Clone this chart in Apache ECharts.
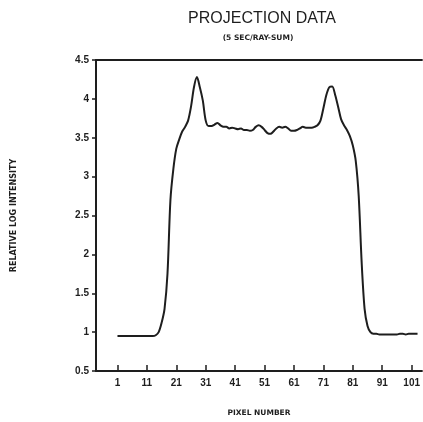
<!DOCTYPE html>
<html>
<head>
<meta charset="utf-8">
<script src="https://cdn.jsdelivr.net/npm/echarts@6/dist/echarts.min.js"></script>
<style>
  html, body { margin: 0; padding: 0; background: #fff; }
  #main { width: 423px; height: 422px; }
</style>
</head>
<body>
<div id="main"></div>
<script>
// pixel numbers 1..103 and relative log intensity
var pixels = [];
for (var i = 1; i <= 103; i++) pixels.push(i);
var intensity = [
  0.95, 0.95, 0.95, 0.95, 0.95, 0.95, 0.95, 0.95, 0.95, 0.95,
  0.95, 0.95, 0.95, 0.96, 1.0, 1.12, 1.3, 1.75, 2.7, 3.1,
  3.36, 3.48, 3.58, 3.64, 3.72, 3.9, 4.15, 4.28, 4.15, 3.98,
  3.72, 3.65, 3.65, 3.67, 3.69, 3.66, 3.64, 3.64, 3.62, 3.63,
  3.62, 3.61, 3.62, 3.6, 3.6, 3.59, 3.6, 3.64, 3.66, 3.64,
  3.6, 3.56, 3.55, 3.58, 3.62, 3.64, 3.63, 3.64, 3.62, 3.59,
  3.59, 3.6, 3.62, 3.64, 3.63, 3.63, 3.63, 3.64, 3.66, 3.72,
  3.88, 4.05, 4.15, 4.16, 4.05, 3.9, 3.74, 3.66, 3.6, 3.52,
  3.4, 3.2, 2.75, 1.9, 1.3, 1.08, 1.0, 0.98, 0.98, 0.97,
  0.97, 0.97, 0.97, 0.97, 0.97, 0.97, 0.98, 0.98, 0.97, 0.98,
  0.98, 0.98, 0.98
];
var xTicks = [1, 11, 21, 31, 41, 51, 61, 71, 81, 91, 101];

var points = pixels.map(function (p, i) { return [p, intensity[i]]; });
var font = '"Liberation Sans", Arial, sans-serif';
var smallFont = '"DejaVu Sans", sans-serif';
var ink = '#1e1e1e';

var myChart = echarts.init(document.getElementById('main'));
var option = {
  backgroundColor: '#fff',
  title: [{
    text: 'PROJECTION DATA',
    left: 257,
    top: 6,
    textAlign: 'center',
    textStyle: { fontFamily: font, fontSize: 16, fontWeight: 'normal', color: ink }
  }, {
    text: '(5 SEC/RAY-SUM)',
    left: 253,
    top: 29,
    textAlign: 'center',
    textStyle: { fontFamily: smallFont, fontSize: 7.5, fontWeight: 'bold', color: ink }
  }],
  grid: { left: 96, right: 0, top: 60, bottom: 45 },
  xAxis: [{
    type: 'value',
    min: -6.3,
    max: 104.5,
    name: 'PIXEL NUMBER',
    nameLocation: 'middle',
    nameGap: 38,
    nameTextStyle: { fontFamily: smallFont, fontSize: 7.5, fontWeight: 'bold', color: ink },
    axisLine: { onZero: false, lineStyle: { color: ink, width: 2 } },
    axisTick: { inside: true, length: 6, customValues: xTicks, lineStyle: { color: ink, width: 1.5 } },
    axisLabel: { customValues: xTicks, margin: 7, fontFamily: font, fontSize: 10, fontWeight: 'bold', color: ink },
    splitLine: { show: false }
  }, {
    type: 'value',
    position: 'top',
    min: -6.3,
    max: 104.5,
    axisLine: { show: true, onZero: false, lineStyle: { color: ink, width: 2 } },
    axisTick: { show: false },
    axisLabel: { show: false },
    splitLine: { show: false }
  }],
  yAxis: {
    type: 'value',
    min: 0.5,
    max: 4.5,
    interval: 0.5,
    name: 'RELATIVE LOG INTENSITY',
    nameLocation: 'middle',
    nameGap: 78,
    nameRotate: 90,
    nameTextStyle: { fontFamily: smallFont, fontSize: 8, fontWeight: 'bold', color: ink },
    axisLine: { show: true, onZero: false, lineStyle: { color: ink, width: 2 } },
    axisTick: { show: true, length: 4, lineStyle: { color: ink, width: 1.5 } },
    axisLabel: { margin: 7, fontFamily: font, fontSize: 10, fontWeight: 'bold', color: ink },
    splitLine: { show: false }
  },
  series: [{
    type: 'line',
    data: points,
    smooth: 0.3,
    showSymbol: false,
    lineStyle: { color: ink, width: 2 }
  }]
};
myChart.setOption(option);
</script>
</body>
</html>
